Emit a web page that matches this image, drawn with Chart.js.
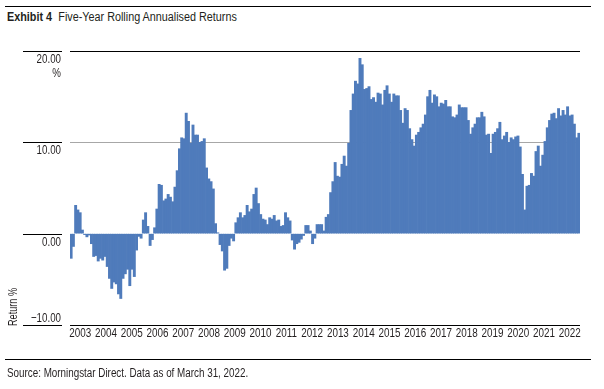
<!DOCTYPE html>
<html>
<head>
<meta charset="utf-8">
<script src="https://cdn.jsdelivr.net/npm/chart.js@4"></script>
<style>
  body { margin: 0; background: #fff; }
  #wrap { position: relative; width: 604px; height: 389px;
          font-family: 'Liberation Sans', Arial, sans-serif; color: #231f20; }
  .rule { position: absolute; left: 5px; width: 586px; height: 0; border-top: 1px solid #000; }
  .narrow { position: absolute; white-space: nowrap; transform-origin: 0 0; }
  #title { left: 7px; top: 10px; font-size: 12px; line-height: 14px; transform: scaleX(0.9); }
  #title b { margin-right: 7px; }
  #source { left: 7px; top: 366px; font-size: 12px; line-height: 14px; transform: scaleX(0.82); }
  #ytitle { left: 7px; top: 326px; font-size: 12px; line-height: 12px; transform: rotate(-90deg) scaleX(0.76); }
  canvas { position: absolute; left: 0; top: 0; }
</style>
</head>
<body>
<div id="wrap">
  <div class="rule" style="top:6px"></div>
  <div id="title" class="narrow"><b>Exhibit 4</b>Five-Year Rolling Annualised Returns</div>
  <canvas id="myChart" width="604" height="389"></canvas>
  <div id="ytitle" class="narrow">Return %</div>
  <div class="rule" style="top:359px"></div>
  <div id="source" class="narrow">Source: Morningstar Direct. Data as of March 31, 2022.</div>
</div>
<script>
// monthly five-year rolling annualised return (%), Feb 2003 - Mar 2022
const firstYear = 2003;
const firstMonth = 2;
const returns = [
  -2.7, -1.4, 3.1, 2.6, 2.3, 0.4, -0.1, -0.35, -0.15, -1.1, -2.5,
  -2.4, -3.0, -2.7, -2.9, -2.5, -3.6, -4.9, -6.0, -5.3, -5.5, -6.6, -7.1,
  -4.9, -4.4, -3.9, -5.7, -3.9, -4.7, -1.8, -0.3, -0.5, 1.5, 2.3, 0.8,
  -1.3, -0.65, 0.65, 2.7, 5.4, 5.3, 3.6, 3.8, 4.3, 4.0, 3.5, 5.1,
  6.9, 9.3, 10.5, 10.4, 13.2, 12.3, 9.9, 11.9, 10.8, 10.8, 10.0, 10.1,
  10.4, 7.2, 6.0, 5.7, 4.9, 1.1, 0.1, -1.2, -1.9, -4.0, -3.8, -1.3,
  -0.5, -0.8, 1.2, 1.75, 2.3, 1.75, 2.0, 3.1, 2.4, 2.7, 4.3, 5.0,
  3.3, 2.1, 1.6, 1.5, 1.0, 1.75, 1.6, 2.0, 1.4, 1.5, 0.8, 0.9,
  2.3, 1.75, 1.4, -0.7, -1.7, -1.1, -0.95, -0.6, -0.2, 0.9, 0.9, 0.3,
  -1.1, -0.5, 1.0, 1.0, 1.0, 0.3, 1.8, 2.1, 4.5, 5.7, 7.8, 6.3,
  6.2, 7.6, 8.5, 7.4, 9.9, 13.5, 15.3, 16.7, 16.4, 19.2, 18.5, 15.8,
  15.9, 16.1, 14.7, 14.9, 14.4, 15.4, 15.3, 14.1, 15.7, 16.2, 15.3, 14.4,
  15.3, 15.1, 15.1, 13.5, 12.1, 13.7, 13.5, 11.5, 10.3, 9.6, 10.8, 11.1,
  11.6, 12.0, 13.0, 15.0, 15.7, 14.3, 15.2, 15.0, 13.9, 14.3, 14.2, 14.6,
  13.9, 13.9, 12.8, 12.7, 13.0, 14.1, 13.8, 13.8, 13.8, 12.4, 10.9, 11.6,
  12.0, 12.7, 12.7, 13.3, 12.8, 10.8, 10.9, 8.8, 10.9, 11.1, 11.5, 12.2,
  10.3, 10.7, 11.1, 10.0, 10.5, 10.3, 10.6, 10.7, 9.5, 6.5, 2.6, 5.2,
  5.3, 6.6, 6.3, 9.0, 9.6, 7.4, 8.6, 10.1, 11.6, 12.4, 13.1, 13.2,
  12.6, 13.7, 12.9, 13.5, 13.0, 13.9, 12.9, 13.0, 12.0, 10.5, 11.0
];
const yearLabels = ['2003','2004','2005','2006','2007','2008','2009','2010','2011','2012',
                    '2013','2014','2015','2016','2017','2018','2019','2020','2021','2022'];
const yTicks = [-10, 0, 10, 20];

// month labels
const months = returns.map((v, i) => {
  const m = firstMonth - 1 + i;
  return (firstYear + Math.floor(m / 12)) + '-' + String(m % 12 + 1).padStart(2, '0');
});

const FONT = "'Liberation Sans', Arial, sans-serif";

// condensed text (font has no narrow cut installed)
function narrowText(ctx, text, x, y, k)
{
  ctx.save();
  ctx.translate(x, y);
  ctx.scale(k, 1);
  ctx.fillText(text, 0, 0);
  ctx.restore();
}

function yLabel(v)
{
  return (v < 0 ? '\u2212' : '') + Math.abs(v).toFixed(2);
}

// axis labels + short lines left of the y labels
const axisText = {
  id: 'axisText',
  afterDraw(chart) {
    const ctx = chart.ctx;
    const y = chart.scales.y;
    const x = chart.scales.x;
    ctx.save();
    ctx.strokeStyle = '#000';
    ctx.lineWidth = 1;
    ctx.fillStyle = '#231f20';
    ctx.font = '13px ' + FONT;
    ctx.textBaseline = 'middle';
    ctx.textAlign = 'right';
    yTicks.forEach(v => {
      const py = Math.round(y.getPixelForValue(v)) + 0.5;
      ctx.beginPath();
      ctx.moveTo(23, py);
      ctx.lineTo(62, py);
      ctx.stroke();
      if (v === -10) {
        narrowText(ctx, yLabel(v), 61, py - 7, 0.75);
      } else {
        narrowText(ctx, yLabel(v), 61, py + 7.5, 0.75);
      }
      if (v === 20) narrowText(ctx, '%', 61, py + 21.5, 0.75);
    });
    // year labels spread evenly along the axis
    ctx.textAlign = 'center';
    const slot = (x.right - x.left) / (yearLabels.length - 0.2);
    yearLabels.forEach((l, i) => {
      narrowText(ctx, l, x.left + slot * (i + 0.4), y.bottom + 8.5, 0.76);
    });
    ctx.restore();
  }
};

const ctx = document.getElementById('myChart').getContext('2d');
const myChart = new Chart(ctx, {
  type: 'bar',
  data: {
    labels: months,
    datasets: [{
      data: returns,
      backgroundColor: '#4f7bbb',
      borderWidth: 0,
      barPercentage: 1,
      categoryPercentage: 1
    }]
  },
  options: {
    responsive: false,
    animation: false,
    layout: { padding: { left: 0, top: 51, right: 24, bottom: 64 } },
    plugins: { legend: { display: false }, tooltip: { enabled: false } },
    scales: {
      x: {
        display: false
      },
      y: {
        min: -10,
        max: 20,
        z: 1,
        afterFit(s) { s.width = 70; },
        afterBuildTicks(s) { s.ticks = yTicks.map(v => ({ value: v })); },
        grid: {
          drawTicks: false,
          lineWidth: 1,
          color: c => c.tick.value === 10 ? 'rgba(60,60,60,0.45)'
                    : c.tick.value === 0 ? 'rgba(0,0,0,0)' : '#000'
        },
        border: { display: false },
        ticks: { display: false }
      }
    }
  },
  plugins: [axisText]
});
</script>
</body>
</html>
